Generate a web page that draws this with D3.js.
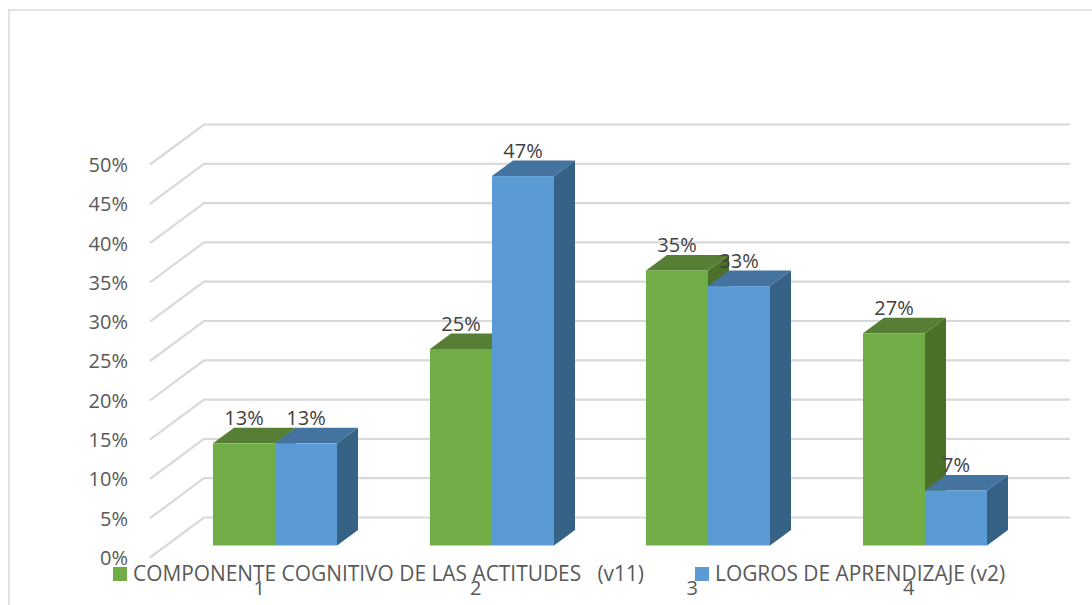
<!DOCTYPE html>
<html>
<head>
<meta charset="utf-8">
<script src="https://cdn.jsdelivr.net/npm/d3@7"></script>
<style>
  html, body { margin: 0; padding: 0; background: #fff; overflow: hidden; }
  text { font-family: 'Open Sans', sans-serif; }
</style>
</head>
<body>
<div id="chart"></div>
<script>
const categories = ['1', '2', '3', '4'];
const seriesNames = ['COMPONENTE COGNITIVO DE LAS ACTITUDES\u00a0\u00a0 (v11)', 'LOGROS DE APRENDIZAJE (v2)'];
const cognitivoValues = [13, 25, 35, 27];
const logrosValues = [13, 47, 33, 7];
const yTicks = [0, 5, 10, 15, 20, 25, 30, 35, 40, 45, 50];

const width = 1092;
const height = 605;

// colours for front, top and side of each series
const greens = { front: '#70ad47', top: '#567f35', side: '#4b7029' };
const blues = { front: '#5b9bd5', top: '#44739f', side: '#366286' };

const svg = d3.select('#chart').append('svg')
  .attr('width', width)
  .attr('height', height);

// Outer frame, only left and top show in the picture
svg.append('path')
  .attr('d', 'M9 ' + height + 'V10H' + width)
  .attr('fill', 'none')
  .attr('stroke', '#d9d9d9')
  .attr('stroke-width', 1.5);

// Back wall scale, the floor front is offset by (-54, +40)
const yWall = d3.scaleLinear().domain([0, 50]).range([517.5, 124.5]);
const depthX = 54;
const depthY = 40;

// Gridlines run along the side wall then across the back wall
svg.append('g').selectAll('path')
  .data(yTicks)
  .join('path')
  .attr('d', d => 'M' + (204 - depthX) + ' ' + (yWall(d) + depthY) + 'L204 ' + yWall(d) + 'H1070')
  .attr('fill', 'none')
  .attr('stroke', '#d9d9d9')
  .attr('stroke-width', 2.2);

// Y axis labels sit at the front edge of the floor
const yFront = d3.scaleLinear().domain([0, 50]).range([558, 165]);
const yAxis = svg.append('g')
  .attr('transform', 'translate(128,0)')
  .call(d3.axisLeft(yFront).tickValues(yTicks).tickSize(0).tickPadding(0).tickFormat(d => d + '%'));
yAxis.select('.domain').remove();
yAxis.selectAll('text')
  .attr('font-size', 20)
  .attr('font-family', "'Open Sans', sans-serif")
  .attr('fill', '#595959');

// X axis labels
const xFloor = d3.scaleBand().domain(categories).range([151, 1017]);
const xAxis = svg.append('g')
  .attr('transform', 'translate(0,581)')
  .call(d3.axisBottom(xFloor).tickSize(0).tickPadding(0));
xAxis.select('.domain').remove();
xAxis.selectAll('text')
  .attr('font-size', 20)
  .attr('font-family', "'Open Sans', sans-serif")
  .attr('fill', '#595959');

// Bars stand in a plane slightly behind the floor front
const xBars = d3.scaleBand().domain(categories).range([167, 1033]);
const xInner = d3.scaleBand().domain([0, 1]).range([0, 124]);
const yBar = d3.scaleLinear().domain([0, 50]).range([545.5, 152.5]);
const barDx = 21;
const barDy = 15.5;

// Left edge of a bar, rounded so the two fronts meet without a seam
function barLeft(i, seriesIndex) {
  return Math.round(xBars(categories[i]) + (xBars.bandwidth() - 124) / 2) + xInner(seriesIndex);
}

function drawBars(values, seriesIndex, colors) {
  values.forEach((v, i) => {
    let x0 = barLeft(i, seriesIndex);
    let x1 = x0 + xInner.bandwidth();
    let yTop = yBar(v);
    let yBase = yBar(0);
    let g = svg.append('g');

    g.append('path')
      .attr('d', 'M' + x1 + ' ' + yTop + 'L' + (x1 + barDx) + ' ' + (yTop - barDy) +
        'V' + (yBase - barDy) + 'L' + x1 + ' ' + yBase + 'Z')
      .attr('fill', colors.side);

    g.append('path')
      .attr('d', 'M' + x0 + ' ' + yTop + 'L' + (x0 + barDx) + ' ' + (yTop - barDy) +
        'H' + (x1 + barDx) + 'L' + x1 + ' ' + yTop + 'Z')
      .attr('fill', colors.top);

    g.append('rect')
      .attr('x', x0)
      .attr('y', yTop)
      .attr('width', x1 - x0)
      .attr('height', yBase - yTop)
      .attr('fill', colors.front);
  });
}

drawBars(cognitivoValues, 0, greens);
drawBars(logrosValues, 1, blues);

// Data labels go on top of all the bars
function drawLabels(values, seriesIndex) {
  values.forEach((v, i) => {
    svg.append('text')
      .text(v + '%')
      .attr('x', barLeft(i, seriesIndex) + xInner.bandwidth() / 2)
      .attr('y', yBar(v) - 18)
      .attr('text-anchor', 'middle')
      .attr('font-size', 20)
      .attr('fill', '#404040');
  });
}

drawLabels(cognitivoValues, 0);
drawLabels(logrosValues, 1);

// Legend
const legendX = [113, 695];
seriesNames.forEach((name, i) => {
  svg.append('rect')
    .attr('x', legendX[i])
    .attr('y', 567)
    .attr('width', 14)
    .attr('height', 14)
    .attr('fill', i === 0 ? greens.front : blues.front);
  svg.append('text')
    .text(name)
    .attr('x', legendX[i] + 20)
    .attr('y', 581)
    .attr('font-size', 20.9)
    .attr('fill', '#595959');
});
</script>
</body>
</html>
